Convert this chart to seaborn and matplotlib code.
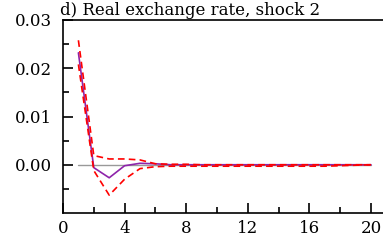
import numpy as np
import pandas as pd
import matplotlib
matplotlib.use("Agg")
import matplotlib.pyplot as plt
import seaborn as sns

# ===== DATA =====
periods = list(range(1, 21))
median = [0.0232, -0.0006, -0.0027, -0.0002, 0.0003, 0.0002, 0.0000, 0.0000, 0.0000, 0.0000,
          0.0000, 0.0000, 0.0000, 0.0000, 0.0000, 0.0000, 0.0000, 0.0000, 0.0000, 0.0000]
upper = [0.0258, 0.0019, 0.0012, 0.0012, 0.0010, 0.0002, 0.0001, 0.0001, 0.0000, 0.0000,
         0.0000, 0.0000, 0.0000, 0.0000, 0.0000, 0.0000, 0.0000, 0.0000, 0.0000, 0.0000]
lower = [0.0208, -0.0012, -0.0063, -0.0030, -0.0008, -0.0004, -0.0003, -0.0003, -0.0003, -0.0003,
         -0.0003, -0.0003, -0.0003, -0.0003, -0.0003, -0.0003, -0.0003, -0.0002, -0.0001, 0.0000]
title = "d) Real exchange rate, shock 2"

df = pd.DataFrame({"t": periods, "median": median, "upper": upper, "lower": lower})

# ===== STYLE =====
sns.set_style("ticks")
plt.rcParams['font.family'] = ['DejaVu Serif']
plt.rcParams['text.color'] = 'black'

fig = plt.figure(figsize=(3.83, 2.42), dpi=100)
ax = fig.add_axes([63 / 383, 29 / 242, 1 - 63 / 383, 193 / 242])

# ===== PLOT =====
ax.plot([1, 20], [0, 0], color="#999999", lw=1.0, zorder=1)
sns.lineplot(data=df, x="t", y="median", color="#8e24aa", lw=1.2, ax=ax, zorder=2)
for col in ["upper", "lower"]:
    sns.lineplot(data=df, x="t", y=col, color="#ff0000", lw=1.2, ax=ax, zorder=3,
                 linestyle=(0, (4, 2.5)))

ax.set_xlim(0, 20.78)
ax.set_ylim(-0.01, 0.03)
ax.set_xticks([0, 4, 8, 12, 16, 20])
ax.set_xticks([2, 6, 10, 14, 18], minor=True)
ax.set_yticks([0.0, 0.01, 0.02, 0.03])
ax.set_yticks([-0.005, 0.005, 0.015, 0.025], minor=True)
ax.set_yticklabels(["0.00", "0.01", "0.02", "0.03"])
ax.tick_params(axis="both", which="major", direction="in", length=7, width=1.2,
               labelsize=12, colors="black")
ax.tick_params(axis="both", which="minor", direction="in", length=4, width=1.2,
               colors="black")
ax.tick_params(axis="x", pad=5)
ax.tick_params(axis="y", pad=8)
ax.set_xlabel("")
ax.set_ylabel("")

for s in ["left", "bottom", "top"]:
    ax.spines[s].set_linewidth(1.2)
    ax.spines[s].set_color("black")
ax.spines["right"].set_visible(False)

fig.text(60 / 383, 1 - 2 / 242, title, fontsize=12, ha="left", va="top", color="black")

fig.savefig("out.png", dpi=100)
